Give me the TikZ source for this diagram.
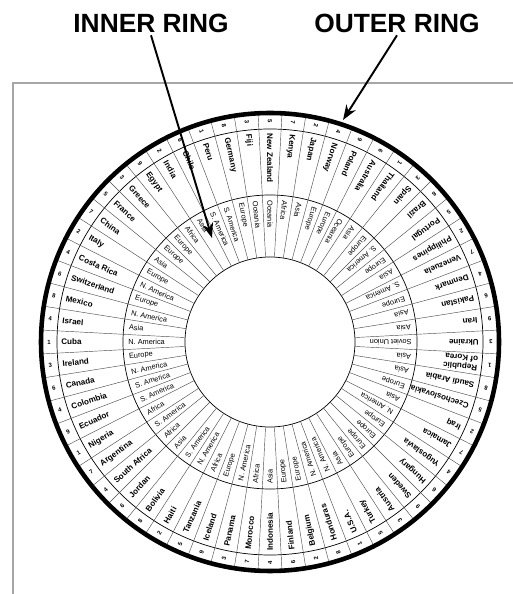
\documentclass[tikz,border=0pt]{standalone}
\usepackage{fontspec}
\setmainfont{Liberation Sans}
\usetikzlibrary{arrows.meta}

\begin{document}
\begin{tikzpicture}[
    x=0.02cm, y=0.02cm,
    >={Stealth[length=3mm, width=2.2mm]},
    ring/.style={draw, line width=0.4pt},
    spoke/.style={draw=black!70, line width=0.25pt},
    country/.style={
        font=\fontsize{4.6}{5}\selectfont\bfseries,
        anchor=west,
        align=left,
        inner sep=0pt
    },
    continent/.style={
        font=\fontsize{4.2}{4.8}\selectfont,
        anchor=west,
        inner sep=0pt
    },
    score/.style={
        font=\fontsize{3.4}{4}\selectfont\bfseries,
        inner sep=0pt
    },
    title/.style={
        font=\fontsize{15}{18}\selectfont\bfseries,
        inner sep=1.5pt
    },
    arr/.style={
        ->,
        line width=1.1pt
    }
]
    \useasboundingbox (0,0) rectangle (512,594);

    % Rahmen
    \draw[black!35, line width=0.6pt] (13,-20) -- (13,511) -- (540,511);

    \node[title] (innerlabel) at (151,571) {INNER RING};
    \node[title] (outerlabel) at (397,571) {OUTER RING};

    \begin{scope}[shift={(270,252)}]
        \draw[ring] (0,0) circle[radius=213];
        \draw[ring] (0,0) circle[radius=147];
        \draw[ring] (0,0) circle[radius=85];
        \foreach \k in {0,...,59}
            \draw[spoke] ({183-6*\k}:85) -- ({183-6*\k}:228);
        \draw[line width=2.6pt] (0,0) circle[radius=229];

        \foreach \land/\cont/\num [count=\k from 0] in {
            Cuba/N. America/1, Israel/Asia/4, Mexico/N. America/8,
            Switzerland/Europe/6, Costa Rica/N. America/4, Italy/Europe/2,
            China/Asia/7, France/Europe/5, Greece/Europe/3,
            Egypt/Africa/9, India/Asia/2, Chile/S. America/6,
            Peru/S. America/1, Germany/Europe/8, Fiji/Oceania/3,
            New Zealand/Oceania/5, Kenya/Africa/7, Japan/Asia/2,
            Norway/Europe/4, Poland/Europe/9, Australia/Oceania/6,
            Thailand/Asia/1, Spain/Europe/3, Brazil/S. America/8,
            Portugal/Europe/5, Philippines/Asia/2, Venezuela/S. America/7,
            Denmark/Europe/4, Pakistan/Asia/6, Iran/Asia/9,
            Ukraine/Soviet Union/3, {Republic\\of Korea}/Asia/1, Saudi Arabia/Asia/8,
            Czechoslovakia/Europe/5, Iraq/Asia/2, Jamaica/N. America/7,
            Yugoslavia/Europe/4, Hungary/Europe/6, Sweden/Europe/9,
            Austria/Europe/3, Turkey/Asia/5, U.S.A./N. America/1,
            Honduras/N. America/8, Belgium/Europe/2, Finland/Europe/6,
            Indonesia/Asia/4, Morocco/Africa/7, Panama/N. America/3,
            Iceland/Europe/9, Tanzania/Africa/5, Haiti/N. America/2,
            Bolivia/S. America/8, Jordan/Asia/6, South Africa/Africa/4,
            Argentina/S. America/7, Nigeria/Africa/1, Ecuador/S. America/9,
            Colombia/S. America/4, Canada/N. America/6, Ireland/Europe/3%
        }{
            \pgfmathsetmacro\ang{180-6*\k}
            \node[score, rotate=\ang+180] (n\k) at (\ang:221) {\num};
            \node[country, rotate=\ang+180] (c\k) at (\ang:209) {\land};
            \node[continent, rotate=\ang+180] (t\k) at (\ang:142) {\cont};
        }
    \end{scope}

    % Zeiger auf die Ringe
    \coordinate (innertip) at (212,356);
    \coordinate (outertip) at (343,474);

    \draw[arr] (innerlabel.south) -- (innertip);
    \draw[arr] (outerlabel.south) -- (outertip);
\end{tikzpicture}
\end{document}
